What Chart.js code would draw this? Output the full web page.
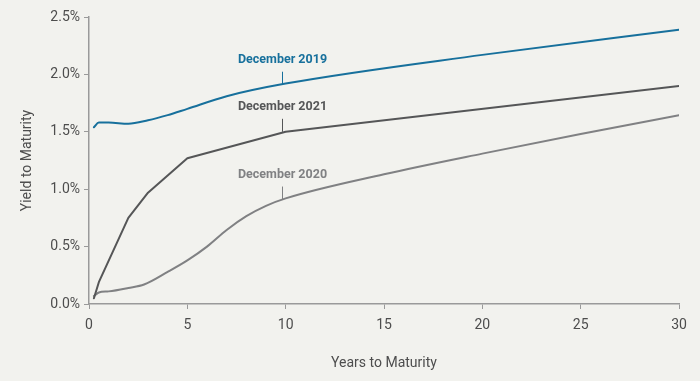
<!DOCTYPE html>
<html>
<head>
<meta charset="utf-8">
<script src="https://cdn.jsdelivr.net/npm/chart.js@4/dist/chart.umd.min.js"></script>
<style>
  html, body { margin: 0; padding: 0; background: #f2f2ee; }
  #wrap { width: 700px; height: 381px; }
</style>
</head>
<body>
<div id="wrap"><canvas id="curve"></canvas></div>
<script>
// yield curves, years to maturity vs yield (%)
var dec2019Years = [0.25, 0.5, 1, 2, 3, 4, 5, 7, 10, 20, 30];
var dec2019Yield = [1.54, 1.58, 1.58, 1.57, 1.60, 1.645, 1.70, 1.81, 1.92, 2.17, 2.39];

var dec2021Years = [0.25, 0.5, 2, 3, 5, 10, 30];
var dec2021Yield = [0.05, 0.19, 0.75, 0.97, 1.27, 1.50, 1.90];

var dec2020Years = [0.25, 0.5, 1, 2, 2.8, 4, 5, 6, 7, 8, 9, 10, 15, 20, 25, 30];
var dec2020Yield = [0.07, 0.10, 0.11, 0.14, 0.17, 0.28, 0.38, 0.50, 0.645, 0.765, 0.855, 0.92, 1.13, 1.31, 1.48, 1.645];

var xTicks = [0, 5, 10, 15, 20, 25, 30];
var colors = {dec2019: "#17709c", dec2021: "#555657", dec2020: "#808183"};

// callout labels: text, anchor year, anchor yield
var calloutText = ["December 2019", "December 2021", "December 2020"];
var calloutYear = [9.8, 9.8, 9.8];
var calloutYield = [1.91, 1.50, 0.91];
var calloutColor = [colors.dec2019, colors.dec2021, colors.dec2020];

function toPoints(xs, ys){
	var pts = [];
	for (var i = 0; i < xs.length; i++) pts.push({x: xs[i], y: ys[i]});
	return pts;
}

var calloutPlugin = {
	id: "callouts",
	afterDatasetsDraw: function(chart){
		var ctx = chart.ctx;
		var xs = chart.scales.x, ys = chart.scales.y;
		ctx.save();
		for (var i = 0; i < calloutText.length; i++) {
			var px = Math.round(xs.getPixelForValue(calloutYear[i])) + 0.5;
			var py = ys.getPixelForValue(calloutYield[i]);
			ctx.strokeStyle = calloutColor[i];
			ctx.lineWidth = 1;
			ctx.beginPath();
			ctx.moveTo(px, py);
			ctx.lineTo(px, py - 13);
			ctx.stroke();
			ctx.fillStyle = calloutColor[i];
			ctx.font = "bold 12.5px Roboto";
			ctx.textAlign = "center";
			ctx.textBaseline = "middle";
			ctx.fillText(calloutText[i], px, py - 25);
		}
		ctx.restore();
	}
};

var axisColor = "#9a9a9a";
var tickFont = {family: "Roboto", size: 14};

new Chart(document.getElementById("curve"), {
	type: "line",
	data: {
		datasets: [
			{label: "December 2019", data: toPoints(dec2019Years, dec2019Yield), borderColor: colors.dec2019, cubicInterpolationMode: "monotone"},
			{label: "December 2021", data: toPoints(dec2021Years, dec2021Yield), borderColor: colors.dec2021, tension: 0},
			{label: "December 2020", data: toPoints(dec2020Years, dec2020Yield), borderColor: colors.dec2020, cubicInterpolationMode: "monotone"}
		]
	},
	options: {
		responsive: true,
		maintainAspectRatio: false,
		animation: false,
		elements: {
			point: {radius: 0},
			line: {borderWidth: 2, borderCapStyle: "round", borderJoinStyle: "round"}
		},
		layout: {padding: {top: 17, right: 21, left: 15, bottom: 0}},
		plugins: {legend: {display: false}, tooltip: {enabled: false}},
		scales: {
			x: {
				type: "linear",
				min: 0, max: 30,
				afterBuildTicks: function(scale){
					scale.ticks = xTicks.map(function(v){ return {value: v}; });
				},
				afterFit: function(scale){ scale.height = 77; },
				border: {color: axisColor, width: 1.5},
				grid: {drawOnChartArea: false, color: axisColor, tickLength: 5},
				ticks: {color: "#4d4d4d", font: tickFont, padding: 8, maxRotation: 0},
				title: {display: true, text: "Years to Maturity", color: "#4d4d4d", font: tickFont, padding: {top: 0, bottom: 9}}
			},
			y: {
				min: 0, max: 2.5,
				afterFit: function(scale){ scale.width = 74; },
				border: {color: axisColor, width: 1.5},
				grid: {drawOnChartArea: false, color: axisColor, tickLength: 5},
				ticks: {
					stepSize: 0.5,
					color: "#4d4d4d",
					font: tickFont,
					padding: 4,
					callback: function(v){ return v.toFixed(1) + "%"; }
				},
				title: {display: true, text: "Yield to Maturity", color: "#4d4d4d", font: tickFont, padding: {bottom: 10}}
			}
		}
	},
	plugins: [calloutPlugin]
});
</script>
</body>
</html>
